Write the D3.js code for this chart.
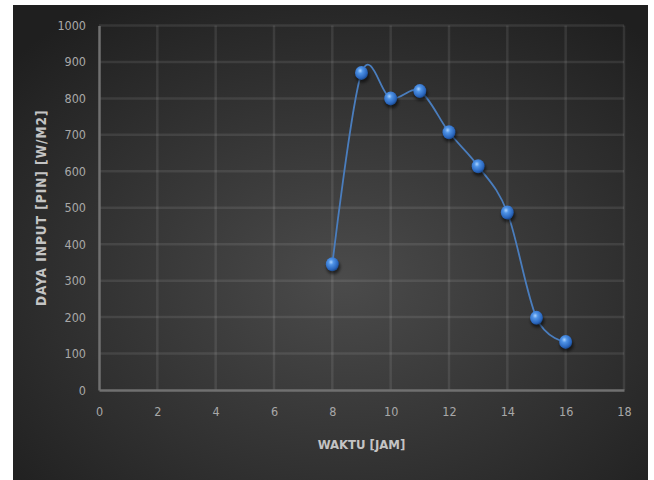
<!DOCTYPE html>
<html><head><meta charset="utf-8">
<script src="https://cdn.jsdelivr.net/npm/d3@7"></script>
<style>html,body{margin:0;padding:0;background:#fff;}svg{display:block;}</style>
</head><body>
<script>
const hours = [8, 9, 10, 11, 12, 13, 14, 15, 16];
const power = [345, 870, 800, 820, 707, 614, 487, 198, 132];
const xTicks = [0, 2, 4, 6, 8, 10, 12, 14, 16, 18];
const yTicks = [0, 100, 200, 300, 400, 500, 600, 700, 800, 900, 1000];
const xTitle = "WAKTU [JAM]";
const yTitle = "DAYA INPUT [PIN] [W/M2]";

const W = 654, H = 480;
const svg = d3.select("body").append("svg").attr("width", W).attr("height", H);
const defs = svg.append("defs");
const bg = defs.append("radialGradient").attr("id", "bg").attr("cx", "52%").attr("cy", "58%").attr("r", "70%");
bg.append("stop").attr("offset", "0%").attr("stop-color", "#4b4b4b");
bg.append("stop").attr("offset", "100%").attr("stop-color", "#1f1f1f");
const ball = defs.append("radialGradient").attr("id", "ball").attr("cx", "40%").attr("cy", "35%").attr("r", "65%");
ball.append("stop").attr("offset", "0%").attr("stop-color", "#a9d2ff");
ball.append("stop").attr("offset", "30%").attr("stop-color", "#4f93e6");
ball.append("stop").attr("offset", "80%").attr("stop-color", "#2a66bd");
ball.append("stop").attr("offset", "100%").attr("stop-color", "#1b4a8e");
const sh = defs.append("filter").attr("id", "sh").attr("x", "-50%").attr("y", "-50%").attr("width", "200%").attr("height", "200%");
sh.append("feGaussianBlur").attr("stdDeviation", 1.5);

svg.append("rect").attr("x", 13).attr("y", 5).attr("width", 635).attr("height", 475).attr("fill", "url(#bg)");

const x = d3.scaleLinear().domain([0, 18]).range([99, 624]);
const y = d3.scaleLinear().domain([0, 1000]).range([390, 25.5]);
const font = "'Liberation Sans Narrow','DejaVu Sans Condensed','Arial Narrow','Liberation Sans',sans-serif";

// gridlines
svg.append("g").selectAll("line").data(yTicks.filter(d => d > 0)).join("line")
  .attr("x1", x(0)).attr("x2", x(18)).attr("y1", d => y(d)).attr("y2", d => y(d))
  .attr("stroke", "rgba(255,255,255,0.09)").attr("stroke-width", 2.5);
svg.append("g").selectAll("line").data(xTicks.filter(d => d > 0)).join("line")
  .attr("y1", y(0)).attr("y2", y(1000)).attr("x1", d => x(d)).attr("x2", d => x(d))
  .attr("stroke", "rgba(255,255,255,0.09)").attr("stroke-width", 2.5);

// axes
const xa = svg.append("g").attr("transform", `translate(0,${y(0)})`)
  .call(d3.axisBottom(x).tickValues(xTicks).tickSize(0).tickPadding(17).tickFormat(d3.format("d")));
const ya = svg.append("g").attr("transform", `translate(${x(0)},0)`)
  .call(d3.axisLeft(y).tickValues(yTicks).tickSize(0).tickPadding(13).tickFormat(d3.format("d")));
[xa, ya].forEach(a => {
  a.select(".domain").attr("stroke", "#707070").attr("stroke-width", 2.5);
  a.selectAll("text").attr("fill", "#a8a8a8").style("font-family", font).style("font-size", "12.5px");
});

// line
const line = d3.line().x((d, i) => x(hours[i])).y(d => y(d)).curve(d3.curveCardinal.tension(0));
svg.append("path").datum(power).attr("d", line).attr("fill", "none")
  .attr("stroke", "#4a7dbd").attr("stroke-width", 1.8);

// markers
svg.append("g").selectAll("ellipse").data(power).join("ellipse")
  .attr("cx", (d, i) => x(hours[i]) + 1).attr("cy", d => y(d) + 3)
  .attr("rx", 7).attr("ry", 7).attr("fill", "rgba(0,0,0,0.55)").attr("filter", "url(#sh)");
svg.append("g").selectAll("ellipse").data(power).join("ellipse")
  .attr("cx", (d, i) => x(hours[i])).attr("cy", d => y(d))
  .attr("rx", 6.5).attr("ry", 7).attr("fill", "url(#ball)");

// titles
svg.append("text").attr("x", (x(0) + x(18)) / 2).attr("y", 449).attr("text-anchor", "middle")
  .attr("fill", "#c4c4c4").style("font-family", font).style("font-size", "13px").style("font-weight", "600").text(xTitle);
svg.append("text").attr("transform", `translate(46,${(y(0) + y(1000)) / 2}) rotate(-90)`).attr("text-anchor", "middle")
  .attr("fill", "#c4c4c4").style("font-family", font).style("font-size", "13.5px").style("font-weight", "600")
  .style("letter-spacing", "1px").text(yTitle);
</script>
</body></html>
